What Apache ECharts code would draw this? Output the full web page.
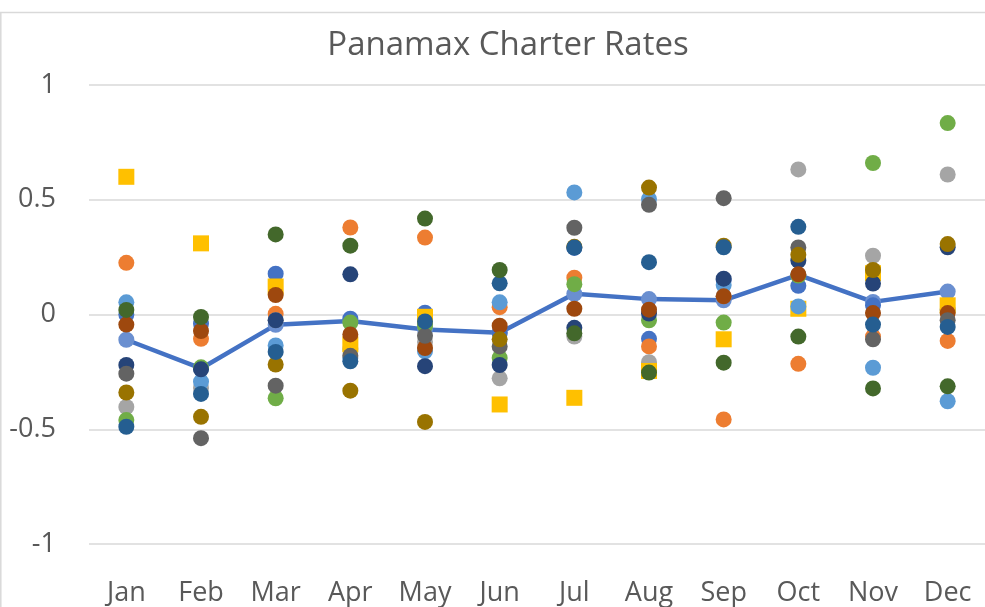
<!DOCTYPE html>
<html>
<head>
<meta charset="utf-8">
<script src="https://cdn.jsdelivr.net/npm/echarts@6/dist/echarts.min.js"></script>
<style>
html,body{margin:0;padding:0;background:#fff;}
#chart{width:985px;height:607px;}
</style>
</head>
<body>
<div id="chart"></div>
<script>
var months = ["Jan","Feb","Mar","Apr","May","Jun","Jul","Aug","Sep","Oct","Nov","Dec"];
var yTicks = [-1, -0.5, 0, 0.5, 1];

var s1  = [0.0, -0.04, 0.178, -0.018, 0.008, -0.08, 0.29, -0.106, 0.15, 0.125, 0.04, 0.02];
var s2  = [0.225, -0.106, 0.003, 0.379, 0.335, 0.032, 0.16, -0.139, -0.457, -0.215, -0.096, -0.115];
var s3  = [-0.403, -0.32, -0.025, -0.15, -0.12, -0.278, -0.096, -0.208, 0.08, 0.632, 0.256, 0.61];
var s4  = [0.60, 0.31, 0.122, -0.13, -0.01, -0.392, -0.363, -0.246, -0.108, 0.025, 0.18, 0.04];
var s5  = [0.053, -0.293, -0.135, -0.19, -0.16, 0.053, 0.532, 0.503, 0.128, 0.035, -0.232, -0.378];
var s6  = [-0.46, -0.23, -0.365, -0.035, -0.05, -0.189, 0.132, -0.025, -0.035, 0.17, 0.66, 0.834];
var s7  = [-0.22, -0.239, -0.025, 0.175, -0.225, -0.22, -0.058, 0.004, 0.156, 0.235, 0.135, 0.293];
var s8  = [-0.044, -0.072, 0.085, -0.087, -0.146, -0.049, 0.025, 0.021, 0.079, 0.175, 0.006, 0.006];
var s9  = [-0.258, -0.539, -0.31, -0.18, -0.093, -0.139, 0.378, 0.478, 0.507, 0.292, -0.108, -0.025];
var s10 = [-0.34, -0.446, -0.218, -0.332, -0.468, -0.108, 0.295, 0.553, 0.30, 0.26, 0.194, 0.307];
var s11 = [-0.489, -0.346, -0.163, -0.204, -0.03, 0.136, 0.292, 0.228, 0.293, 0.382, -0.044, -0.054];
var s12 = [0.02, -0.011, 0.349, 0.30, 0.418, 0.194, -0.082, -0.253, -0.21, -0.096, -0.322, -0.313];
var average = [-0.11, -0.235, -0.045, -0.028, -0.065, -0.08, 0.09, 0.067, 0.062, 0.173, 0.055, 0.1];

var scatterData = [s1, s2, s3, s4, s5, s6, s7, s8, s9, s10, s11, s12];
var colors = ["#4472C4","#ED7D31","#A5A5A5","#FFC000","#5B9BD5","#70AD47","#264478","#9E480E","#636363","#997300","#255E91","#43682B"];
var FONT = "'Open Sans', 'Liberation Sans', sans-serif";

var series = [{
  name: "Average",
  type: "line",
  data: average,
  symbol: "circle",
  symbolSize: 16,
  showAllSymbol: true,
  lineStyle: {color: "#4472C4", width: 4.5},
  itemStyle: {color: "#6A8FD0"},
  z: 2
}];
scatterData.forEach(function (arr, i) {
  series.push({
    name: "S" + (i + 1),
    type: "scatter",
    data: arr,
    symbol: i === 3 ? "rect" : "circle",
    symbolSize: 16,
    itemStyle: {color: colors[i], opacity: 1},
    z: 3
  });
});

var chart = echarts.init(document.getElementById("chart"), null, {renderer: "canvas"});
chart.setOption({
  animation: false,
  backgroundColor: "#fff",
  title: {
    text: "Panamax Charter Rates",
    left: 503, top: 24, textAlign: "center",
    textStyle: {fontFamily: FONT, fontSize: 33, fontWeight: "normal", color: "#595959"}
  },
  graphic: [
    {type: "line", shape: {x1: 0, y1: 12.5, x2: 985, y2: 12.5}, style: {stroke: "#d9d9d9", lineWidth: 1.5}},
    {type: "line", shape: {x1: 0.8, y1: 12, x2: 0.8, y2: 607}, style: {stroke: "#d9d9d9", lineWidth: 1.5}}
  ],
  grid: {left: 89, top: 85, width: 900, bottom: 55, containLabel: false},
  xAxis: {
    type: "category",
    data: months,
    boundaryGap: true,
    axisLine: {show: false},
    axisTick: {show: false},
    axisLabel: {fontFamily: FONT, fontSize: 27, color: "#595959", margin: 36, interval: 0}
  },
  yAxis: {
    type: "value",
    min: yTicks[0], max: yTicks[yTicks.length - 1], interval: 0.5,
    axisLine: {show: false},
    axisTick: {show: false},
    splitLine: {lineStyle: {color: "#d9d9d9", width: 1.5}},
    axisLabel: {fontFamily: FONT, fontSize: 27, color: "#595959", margin: 33, align: "right"}
  },
  tooltip: {show: false},
  series: series
});
</script>
</body>
</html>
